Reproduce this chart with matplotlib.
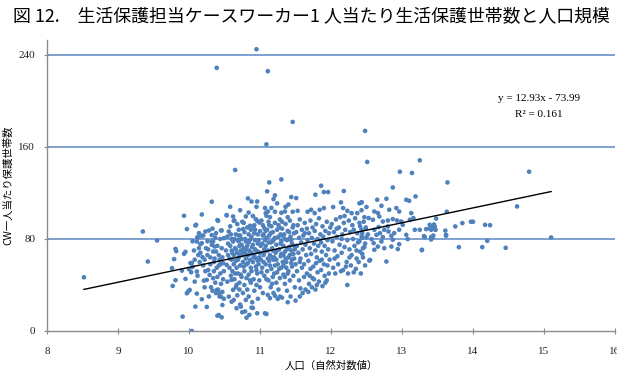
import matplotlib
matplotlib.use("Agg")
import matplotlib.pyplot as plt
import numpy as np

# ---- data (ln(population), households per caseworker) ----
outliers = [(10.95, 245.0), (10.39, 228.8), (11.11, 225.9), (11.46, 181.8), (12.48, 174.0),
            (11.09, 162.3), (12.51, 147.0), (13.25, 148.4), (10.65, 140.0), (12.97, 138.5),
            (13.14, 137.4), (14.79, 138.5), (11.13, 129.2), (11.30, 131.8), (13.64, 129.2),
            (11.86, 126.3), (12.87, 124.8), (10.04, 0.0), (15.10, 81.3), (8.52, 46.7)]

left_sparse = [(9.35, 86.5), (9.42, 60.4), (9.55, 78.7), (9.76, 54.6), (9.77, 39.2), (9.79, 62.5),
               (9.81, 71.4), (9.82, 69.4), (9.81, 44.2), (9.91, 12.5), (9.93, 100.2), (9.97, 88.6),
               (9.93, 67.1), (9.95, 68.8), (9.95, 45.3), (9.90, 52.5), (9.97, 32.8), (9.99, 34.5)]

col_10 = [(10.02, 59.0), (10.03, 51.1), (10.00, 53.7), (10.05, 55.7), (10.04, 59.2), (10.01, 35.7),
          (10.08, 42.9), (10.09, 21.2), (10.10, 92.3), (10.09, 91.7), (10.11, 77.8), (10.11, 51.7),
          (10.11, 32.5), (10.12, 81.3), (10.12, 81.6), (10.14, 85.1), (10.14, 72.0), (10.16, 75.5),
          (10.17, 82.8), (10.18, 101.3), (10.18, 27.6), (10.18, 76.4), (10.19, 64.2), (10.21, 43.8),
          (10.23, 86.5), (10.24, 72.0), (10.25, 44.4), (10.25, 20.9), (10.28, 87.4), (10.29, 48.8),
          (10.32, 112.4), (10.32, 77.8), (10.32, 83.4), (10.32, 74.9), (10.34, 45.9), (10.34, 69.1),
          (10.34, 77.8), (10.36, 73.4), (10.37, 81.3), (10.38, 85.1), (10.38, 69.1), (10.40, 96.4),
          (10.40, 13.3), (10.41, 95.8), (10.43, 61.8), (10.45, 87.4), (10.46, 87.4), (10.46, 11.9),
          (10.47, 22.6), (10.48, 59.0), (10.49, 80.7), (10.20, 57), (10.22, 62), (10.26, 66),
          (10.27, 53), (10.30, 58), (10.31, 38), (10.33, 35), (10.35, 52), (10.36, 63), (10.38, 33),
          (10.39, 55), (10.40, 47), (10.41, 36), (10.42, 66), (10.43, 30), (10.44, 50), (10.45, 41),
          (10.46, 72), (10.47, 34), (10.48, 45), (10.49, 28), (10.44, 58), (10.28, 30), (10.22, 38),
          (10.15, 60), (10.13, 66), (10.07, 70), (10.26, 78), (10.39, 35.7), (10.42, 32.8),
          (10.45, 29.9), (10.42, 13.9), (10.05, 78), (10.08, 62), (10.12, 48), (10.16, 68),
          (10.20, 83), (10.23, 52), (10.27, 71), (10.30, 64), (10.33, 89), (10.35, 60), (10.37, 42),
          (10.40, 74), (10.42, 57), (10.44, 80), (10.47, 64), (10.49, 52)]

col_105 = [(10.53, 100.8), (10.62, 99.6), (10.64, 96.1), (10.53, 100.5), (10.63, 95.8), (10.80, 99.6),
           (10.94, 97.3), (10.96, 95.8), (10.99, 94.3), (10.83, 115.3), (10.88, 112.6), (10.96, 112.6),
           (10.56, 86.5), (10.70, 88.0), (10.76, 88.6), (10.86, 91.5), (10.91, 90.9), (10.93, 88.0),
           (11.00, 86.8), (10.54, 82.1), (10.60, 79.9), (10.62, 77.8), (10.69, 78.7), (10.74, 79.9),
           (10.80, 77.8), (10.86, 79.3), (10.53, 57.5), (10.56, 29.9), (10.62, 35.7), (10.67, 19.8),
           (10.54, 42.9), (10.60, 44.4), (10.67, 40.1), (10.58, 74), (10.60, 70), (10.63, 66),
           (10.65, 72), (10.66, 61), (10.68, 68), (10.70, 64), (10.71, 74), (10.72, 57), (10.73, 70),
           (10.75, 66), (10.76, 60), (10.77, 72), (10.78, 52), (10.79, 68), (10.80, 63), (10.81, 58),
           (10.82, 74), (10.83, 66), (10.84, 49), (10.85, 70), (10.86, 62), (10.87, 55), (10.88, 68),
           (10.89, 73), (10.90, 60), (10.91, 45), (10.92, 66), (10.93, 71), (10.94, 56), (10.95, 63),
           (10.96, 50), (10.97, 69), (10.98, 58), (10.99, 64), (10.57, 55), (10.59, 48), (10.61, 52),
           (10.64, 45), (10.66, 38), (10.69, 50), (10.71, 42), (10.74, 47), (10.76, 33), (10.78, 40),
           (10.80, 27), (10.82, 36), (10.84, 30), (10.87, 42), (10.89, 25), (10.92, 35), (10.95, 40),
           (10.97, 28), (10.99, 44), (10.72, 23), (10.79, 17), (10.85, 14), (10.63, 27), (10.68, 31),
           (10.90, 20), (10.55, 66), (10.58, 91), (10.66, 84), (10.72, 83), (10.78, 86), (10.84, 84),
           (10.88, 82), (10.93, 79), (10.97, 84), (10.68, 93), (10.75, 95), (10.84, 103), (10.90, 100),
           (10.58, 108), (10.72, 105), (10.95, 108), (10.60, 62), (10.70, 78), (10.82, 90), (10.97, 76),
           (10.75, 16.3), (10.81, 11.6), (10.96, 15.4), (10.73, 21.2), (10.88, 20.3), (10.60, 25.5),
           (10.52, 70), (10.55, 76), (10.57, 63), (10.59, 84), (10.61, 68), (10.63, 58), (10.64, 80),
           (10.66, 71), (10.67, 55), (10.69, 62), (10.70, 83), (10.72, 66), (10.73, 49), (10.74, 75),
           (10.76, 69), (10.77, 56), (10.79, 80), (10.80, 71), (10.81, 46), (10.83, 59), (10.84, 77),
           (10.86, 67), (10.87, 88), (10.88, 52), (10.90, 75), (10.91, 64), (10.92, 85), (10.94, 70),
           (10.95, 53), (10.97, 61), (10.98, 79), (10.65, 50), (10.71, 36), (10.86, 44), (10.77, 94),
           (10.92, 92)]

col_11 = [(11.10, 121.4), (11.21, 117.9), (11.19, 114.7), (11.44, 116.5), (11.51, 115.6),
          (11.07, 106.9), (11.11, 103.9), (11.21, 103.7), (11.30, 102.8), (11.35, 103.9),
          (11.46, 103.7), (11.08, 102.5), (11.09, 100.2), (11.06, 89.5), (11.02, 96), (11.04, 92),
          (11.05, 84), (11.07, 79), (11.08, 74), (11.10, 88), (11.11, 70), (11.12, 95), (11.13, 83),
          (11.14, 66), (11.15, 77), (11.16, 91), (11.17, 72), (11.18, 86), (11.19, 62), (11.20, 80),
          (11.21, 94), (11.22, 68), (11.23, 75), (11.24, 88), (11.25, 58), (11.26, 82), (11.27, 71),
          (11.28, 97), (11.29, 65), (11.30, 78), (11.31, 89), (11.32, 60), (11.33, 74), (11.34, 84),
          (11.35, 69), (11.36, 93), (11.37, 55), (11.38, 79), (11.39, 87), (11.40, 64), (11.41, 73),
          (11.42, 96), (11.43, 82), (11.44, 59), (11.45, 76), (11.46, 90), (11.47, 67), (11.48, 85),
          (11.49, 71), (11.01, 62), (11.03, 55), (11.05, 66), (11.06, 48), (11.08, 58), (11.10, 52),
          (11.12, 44), (11.13, 61), (11.15, 38), (11.16, 54), (11.18, 47), (11.19, 33), (11.21, 57),
          (11.23, 42), (11.24, 51), (11.26, 36), (11.28, 46), (11.30, 55), (11.31, 29), (11.33, 49),
          (11.35, 41), (11.37, 60), (11.38, 35), (11.40, 52), (11.42, 44), (11.43, 30), (11.45, 56),
          (11.47, 48), (11.49, 38), (11.07, 15.4), (11.09, 14.8), (11.11, 31.4), (11.14, 28.5),
          (11.21, 30.7), (11.28, 29.9), (11.39, 25.0), (11.50, 26.4), (11.04, 33), (11.25, 28),
          (11.03, 76), (11.09, 81), (11.14, 99), (11.20, 64), (11.27, 90), (11.33, 66), (11.39, 99),
          (11.44, 70), (11.06, 71), (11.18, 78), (11.29, 84), (11.41, 80), (11.48, 63), (11.36, 108),
          (11.24, 111), (11.16, 107), (11.40, 110), (11.00, 68), (11.01, 74), (11.02, 51),
          (11.04, 83), (11.05, 60), (11.07, 69), (11.08, 87), (11.09, 45), (11.11, 63), (11.12, 77),
          (11.14, 57), (11.15, 85), (11.17, 64), (11.18, 70), (11.20, 50), (11.21, 81), (11.23, 62),
          (11.24, 70), (11.26, 92), (11.27, 54), (11.29, 76), (11.30, 67), (11.32, 83), (11.33, 57),
          (11.35, 80), (11.36, 63), (11.38, 71), (11.39, 50), (11.41, 86), (11.42, 66), (11.44, 79),
          (11.45, 62), (11.47, 92), (11.48, 74), (11.50, 58), (11.00, 38), (11.17, 41), (11.35, 47),
          (11.13, 92), (11.31, 95)]

col_115 = [(11.53, 104.5), (11.67, 103.7), (11.72, 105.4), (11.77, 102.5), (11.84, 105.4),
           (11.90, 106.9), (11.78, 118.5), (11.90, 120.8), (11.96, 120.8), (11.51, 86), (11.52, 74),
           (11.53, 92), (11.54, 68), (11.55, 81), (11.56, 97), (11.57, 63), (11.58, 77), (11.59, 88),
           (11.60, 71), (11.61, 83), (11.62, 58), (11.63, 94), (11.64, 75), (11.65, 66), (11.66, 89),
           (11.67, 79), (11.68, 61), (11.69, 85), (11.70, 72), (11.71, 96), (11.72, 67), (11.73, 81),
           (11.74, 90), (11.75, 56), (11.76, 76), (11.77, 87), (11.78, 70), (11.79, 93), (11.80, 64),
           (11.81, 80), (11.82, 74), (11.83, 98), (11.84, 61), (11.85, 84), (11.86, 77), (11.87, 69),
           (11.88, 91), (11.89, 82), (11.90, 58), (11.91, 74), (11.92, 87), (11.93, 66), (11.94, 95),
           (11.95, 79), (11.96, 71), (11.97, 85), (11.98, 62), (11.99, 90), (11.52, 52), (11.55, 44),
           (11.57, 37), (11.59, 55), (11.62, 47), (11.64, 36), (11.66, 50), (11.69, 41), (11.71, 54),
           (11.73, 38), (11.76, 45), (11.78, 36), (11.81, 51), (11.83, 43), (11.86, 53), (11.88, 39),
           (11.91, 48), (11.94, 44), (11.97, 50), (11.60, 33), (11.68, 34), (11.80, 40), (11.92, 42),
           (11.56, 30), (11.74, 46), (11.56, 60), (11.63, 85), (11.70, 48), (11.79, 59), (11.87, 62),
           (11.95, 57)]

col_12 = [(12.03, 107.8), (12.14, 111.8), (12.17, 106.9), (12.23, 104.5), (12.29, 102.5),
          (12.37, 102.5), (12.18, 121.7), (12.43, 111.8), (12.01, 93), (12.02, 78), (12.04, 86),
          (12.05, 70), (12.07, 97), (12.08, 82), (12.09, 65), (12.11, 90), (12.12, 75), (12.13, 99),
          (12.15, 68), (12.16, 84), (12.18, 94), (12.19, 73), (12.20, 88), (12.22, 60), (12.23, 79),
          (12.25, 96), (12.26, 71), (12.27, 86), (12.29, 66), (12.30, 92), (12.31, 80), (12.33, 74),
          (12.34, 98), (12.36, 63), (12.37, 85), (12.38, 77), (12.40, 94), (12.41, 69), (12.43, 88),
          (12.44, 81), (12.46, 95), (12.47, 73), (12.49, 89), (12.03, 55), (12.06, 50), (12.10, 58),
          (12.14, 52), (12.17, 53), (12.21, 56), (12.23, 40), (12.24, 50), (12.28, 57), (12.32, 51),
          (12.35, 54), (12.39, 60), (12.42, 50), (12.45, 64), (12.48, 57), (12.40, 111),
          (12.43, 105), (12.47, 99), (12.41, 91), (12.49, 90), (12.44, 85), (12.40, 78), (12.48, 76),
          (12.44, 67), (12.43, 82.2), (12.45, 72.0), (12.05, 63), (12.15, 80), (12.26, 64),
          (12.36, 70), (12.08, 89), (12.19, 100), (12.32, 88)]

col_125 = [(12.43, 112.0), (12.50, 107.8), (12.65, 114.1), (12.71, 108.9), (12.78, 115.0),
           (12.82, 105.4), (12.92, 106.9), (12.96, 103.9), (13.06, 114.1), (13.10, 113.2),
           (13.19, 117.0), (13.13, 102.5), (12.61, 103.9), (12.66, 102.5), (12.53, 98.2),
           (12.59, 96.7), (12.68, 99.6), (12.73, 95.2), (12.80, 96.1), (12.87, 97.3), (12.93, 96.1),
           (12.99, 95.2), (13.01, 92.3), (13.11, 96.7), (13.16, 98.2), (13.25, 88.0), (13.34, 88.6),
           (13.39, 92.3), (13.41, 88.0), (13.46, 90.9), (12.50, 81.6), (12.57, 79.9), (12.60, 76.4),
           (12.66, 73.4), (12.55, 61.8), (12.78, 60.4), (12.94, 71.2), (12.96, 75.5), (13.06, 83.6),
           (13.08, 79.9), (13.18, 88.0), (13.28, 70.6), (13.32, 81.6), (13.41, 81.6), (13.47, 88.0),
           (13.62, 83.6), (12.61, 88.0), (12.64, 83.6), (12.69, 85.1), (12.73, 81.6), (12.75, 88.0),
           (12.81, 86.5), (12.85, 82.8), (12.87, 79.3), (12.89, 85.1), (12.85, 73.4), (12.71, 77.8),
           (12.75, 72.0), (12.61, 70.6), (12.96, 88.0), (12.80, 90.9), (12.67, 90.3), (12.54, 61.2),
           (12.52, 84.0)]

right_sparse = [(14.62, 108.3), (13.63, 103.7), (13.48, 97.8), (13.45, 92.6), (13.39, 89.1),
                (13.42, 90.0), (13.47, 88.2), (13.75, 90.9), (13.85, 93.8), (13.97, 95.0),
                (14.00, 95.0), (14.17, 92.3), (14.24, 92.0), (13.61, 87.3), (13.62, 82.8),
                (13.31, 82.5), (13.43, 81.5), (13.44, 83.0), (13.41, 79.6), (14.20, 78.4),
                (13.28, 70.3), (13.80, 72.9), (14.13, 72.9), (14.46, 72.3)]

# trendline as printed on the chart
slope, intercept = 12.93, -73.99
eq_text = "y = 12.93x - 73.99"
r2_text = "R\u00b2 = 0.161"

pts = np.array(outliers + left_sparse + col_10 + col_105 + col_11 + col_115 + col_12 + col_125 + right_sparse)
xs, ys = pts[:, 0], pts[:, 1]

# ---- plot ----
fig = plt.figure(figsize=(6.17, 3.85), dpi=100)
ax = fig.add_axes([0.0762, 0.1403, 0.9206, 0.7557])

blue = "#4F81BD"
ax.scatter(xs, ys, s=11, color=blue, edgecolors="none", zorder=3)

x_line = np.array([xs.min(), xs.max()])
ax.plot(x_line, slope * x_line + intercept, color="black", lw=1.0, zorder=4)

ax.set_xlim(8, 16)
ax.set_ylim(0, 253)
ax.set_xticks(range(8, 17))
ax.set_yticks([0, 80, 160, 240])
for v in [80, 160, 240]:
    ax.axhline(v, color="#5A87C5", lw=1.1, zorder=1)

for side in ["top", "right"]:
    ax.spines[side].set_visible(False)
for side in ["left", "bottom"]:
    ax.spines[side].set_color("#8C8C8C")
    ax.spines[side].set_linewidth(1.0)
ax.tick_params(direction="inout", length=5, width=0.8, color="#8C8C8C",
               labelsize=8, labelcolor="#222222")
ax.tick_params(axis="x", pad=9)
ax.tick_params(axis="y", pad=6)
for lab in ax.get_xticklabels() + ax.get_yticklabels():
    lab.set_fontfamily("Liberation Serif")

ax.set_xlabel("人口（自然対数値）", family=["Noto Sans CJK JP", "DejaVu Sans"], fontsize=7.5, labelpad=3)
ax.set_ylabel("CW一人当たり保護世帯数", family=["Noto Sans CJK JP", "DejaVu Sans"], fontsize=7.5, labelpad=4)

ax.text(14.93, 202, eq_text, ha="center", va="center", fontsize=8, family="Liberation Serif")
ax.text(14.93, 188, r2_text, ha="center", va="center", fontsize=8, family="Liberation Serif")

fig.text(0.505, 0.955, "図 12.　生活保護担当ケースワーカー1 人当たり生活保護世帯数と人口規模",
         ha="center", va="center", fontsize=12.9,
         family=["Noto Sans CJK JP", "DejaVu Sans"])

fig.savefig("out.png", dpi=100)
